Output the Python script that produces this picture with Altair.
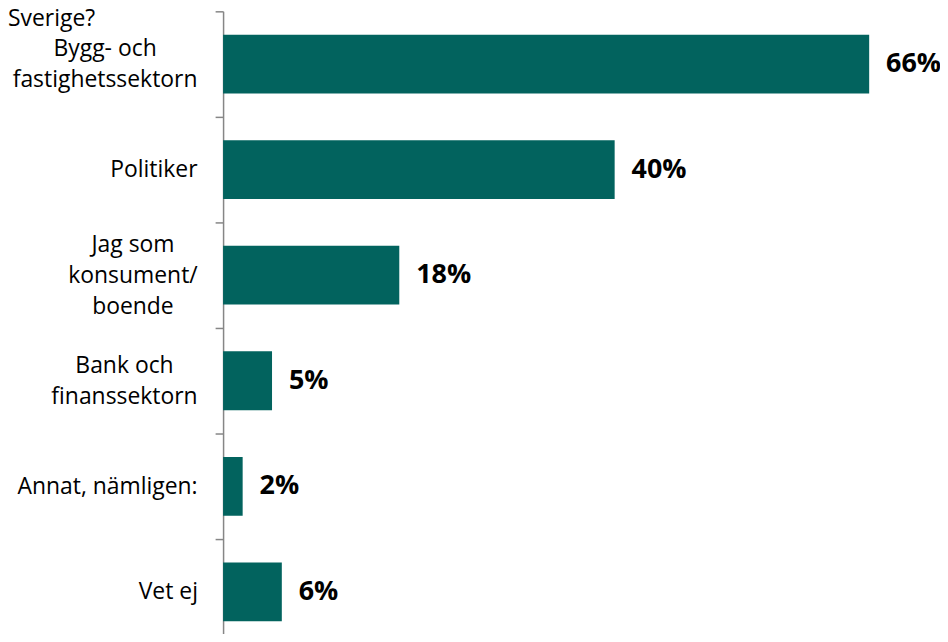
import json
import altair as alt
import pandas as pd

# ---- data ----
categories = [
    "Bygg- och fastighetssektorn",
    "Politiker",
    "Jag som konsument/ boende",
    "Bank och finanssektorn",
    "Annat, nämligen:",
    "Vet ej",
]
values = [66, 40, 18, 5, 2, 6]
value_labels = ["66%", "40%", "18%", "5%", "2%", "6%"]
label_lines = [
    ["Bygg- och", "fastighetssektorn"],
    ["Politiker"],
    ["Jag som", "konsument/", "boende"],
    ["Bank och", "finanssektorn"],
    ["Annat, nämligen:"],
    ["Vet ej"],
]
title_text = "Sverige?"

# ---- styling ----
FONT = "Open Sans"
BAR = "#02635E"
AXIS = "#868686"
LINE_H = 31
label_pad = [111, 62, 83, 91.5, 108.5, 47.5]  # distance of label centre from tick end

df = pd.DataFrame({"cat": categories, "value": values, "label": value_labels})

expr = ""
for c, lines in zip(categories, label_lines):
    expr += f"datum.label === {json.dumps(c, ensure_ascii=False)} ? {json.dumps(lines, ensure_ascii=False)} : "
expr += "datum.label"

pad_cond = {
    "condition": [
        {"test": f"datum.value === {json.dumps(c, ensure_ascii=False)}", "value": p}
        for c, p in zip(categories, label_pad)
    ],
    "value": 60,
}
off_cond = {
    "condition": [
        {"test": f"datum.value === {json.dumps(c, ensure_ascii=False)}",
         "value": -(len(lines) - 1) * LINE_H / 2}
        for c, lines in zip(categories, label_lines)
    ],
    "value": 0,
}

y = alt.Y(
    "cat:N",
    sort=categories,
    scale=alt.Scale(range=[2, 638], paddingInner=0, paddingOuter=0),
    axis=alt.Axis(
        title=None,
        labelExpr=expr,
        labelAlign="center",
        labelBaseline="middle",
        labelFont=FONT,
        labelFontSize=23,
        labelColor="black",
        labelLineHeight=LINE_H,
        labelLimit=400,
        labelOverlap=False,
        labelPadding=pad_cond,
        labelOffset=off_cond,
        tickSize=8,
        tickColor=AXIS,
        tickWidth=1.5,
        domainColor=AXIS,
        domainWidth=1.5,
        tickBand="extent",
        grid=False,
    ),
)
x = alt.X("value:Q", scale=alt.Scale(domain=[0, 71.2]), axis=None)

bars = alt.Chart(df).mark_bar(color=BAR, height={"band": 0.557}).encode(x=x, y=y)
text = alt.Chart(df).mark_text(
    align="left", baseline="middle", dx=17, font=FONT, fontSize=27,
    fontWeight="bold", color="black"
).encode(x=x, y=y, text="label:N")

chart = alt.layer(bars, text).properties(
    width=700,
    height=626,
    autosize=alt.AutoSizeParams(type="none"),
    padding={"left": 216, "top": 0, "right": 20, "bottom": 0},
    title=alt.TitleParams(
        text=title_text, anchor="start", frame="group", font=FONT,
        fontSize=23, fontWeight="normal", color="black", dx=-216,
        offset=0, baseline="alphabetic", dy=51,
    ),
).configure_view(stroke=None)

chart.save("out.html", embed_options={"renderer": "svg", "actions": False})
